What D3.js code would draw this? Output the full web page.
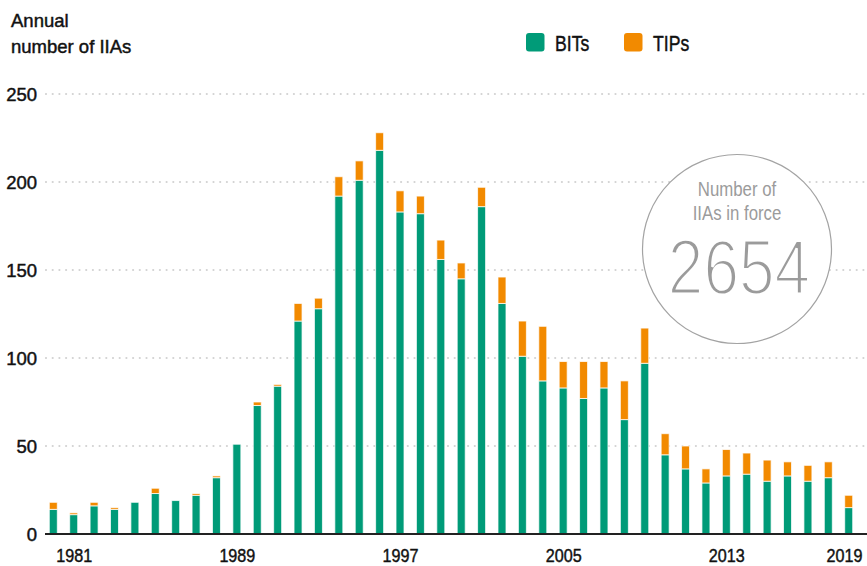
<!DOCTYPE html>
<html>
<head>
<meta charset="utf-8">
<script src="https://cdn.jsdelivr.net/npm/d3@7"></script>
<style>
  html, body { margin: 0; padding: 0; background: #fff; }
  svg { display: block; }
</style>
</head>
<body>
<svg id="chart" width="867" height="566"></svg>
<script>
const years = d3.range(1980, 2020);
const bits = [14,11,16,14,18,23,19,22,32,51,73,84,121,128,192,201,218,183,182,156,145,186,131,101,87,83,77,83,65,97,45,37,29,33,34,30,33,30,32,15];
const tips = [4,1,2,1,0,3,0,1,1,0,2,1,10,6,11,11,10,12,10,11,9,11,15,20,31,15,21,15,22,20,12,13,8,15,12,12,8,9,9,7];
const yTicks = [0, 50, 100, 150, 200, 250];
const xTickYears = [1981, 1989, 1997, 2005, 2013, 2019];
const seriesNames = ["BITs", "TIPs"];
const titleLines = ["Annual", "number of IIAs"];
const inForceLines = ["Number of", "IIAs in force"];
const inForceTotal = "2654";

const colors = { BITs: "#009b78", TIPs: "#f28a00" };
const svg = d3.select("#chart");
const sans = "'Liberation Sans', Arial, sans-serif";
const ink = "#111";

const x = d3.scaleLinear().domain([1980, 2019]).range([53.3, 848.7]);
const y = d3.scaleLinear().domain([0, 250]).range([534, 94]);
const barW = 8;

// grid lines
svg.append("g").selectAll("line").data(yTicks.filter(d => d > 0)).join("line")
  .attr("x1", 46).attr("x2", 867)
  .attr("y1", d => y(d)).attr("y2", d => y(d))
  .attr("stroke", "#d2d2d2").attr("stroke-width", 2.2)
  .attr("stroke-linecap", "round").attr("stroke-dasharray", "0,6.7");

// y labels
svg.append("g").selectAll("text").data(yTicks).join("text")
  .attr("x", 37).attr("y", d => y(d) + 6.5)
  .attr("text-anchor", "end")
  .attr("font-family", sans).attr("font-size", 18.5).attr("fill", ink)
  .attr("stroke", ink).attr("stroke-width", 0.45)
  .text(d => d);

// stacked bars
const data = years.map((yr, i) => ({ year: yr, BITs: bits[i], TIPs: tips[i] }));
const stack = d3.stack().keys(seriesNames)(data);
svg.append("g").selectAll("g").data(stack).join("g")
  .attr("fill", s => colors[s.key])
  .selectAll("rect").data(s => s.filter(d => d[1] - d[0] > 0)).join("rect")
  .attr("x", d => x(d.data.year) - barW / 2)
  .attr("width", barW)
  .attr("y", d => y(d[1]))
  .attr("height", d => y(d[0]) - y(d[1]))
  .attr("stroke", "#fff").attr("stroke-opacity", 0.75).attr("stroke-width", 1);

// baseline
svg.append("line").attr("x1", 45).attr("x2", 867).attr("y1", y(0)).attr("y2", y(0))
  .attr("stroke", "#222").attr("stroke-width", 1.8);

// x axis
const xAxis = svg.append("g").attr("transform", `translate(0,${y(0)})`)
  .call(d3.axisBottom(x).tickValues(xTickYears).tickFormat(d3.format("d")).tickSize(0).tickPadding(0));
xAxis.select(".domain").remove();
xAxis.selectAll("text")
  .attr("font-family", sans).attr("font-size", 19).attr("fill", ink)
  .attr("stroke", ink).attr("stroke-width", 0.45)
  .attr("dy", null).attr("y", 28.5)
  .attr("x", d => d === 2019 ? -5.5 : 0)
  .attr("transform", "scale(0.85,1)");

// title
svg.append("g").selectAll("text").data(titleLines).join("text")
  .attr("x", 11).attr("y", (d, i) => 27 + i * 26)
  .attr("font-family", sans).attr("font-size", 18.5).attr("fill", ink)
  .attr("stroke", ink).attr("stroke-width", 0.45)
  .text(d => d);

// legend
const legend = svg.append("g");
const legendX = [526, 624];
seriesNames.forEach((name, i) => {
  legend.append("rect").attr("x", legendX[i]).attr("y", 33).attr("width", 18.5).attr("height", 18.5)
    .attr("rx", 3).attr("fill", colors[name]);
  legend.append("text").attr("transform", `translate(${legendX[i] + 29},51) scale(0.82,1)`)
    .attr("font-family", sans).attr("font-size", 21.5).attr("fill", ink)
    .attr("stroke", ink).attr("stroke-width", 0.45).text(name);
});

// in-force circle
const cx = 737, cy = 249;
svg.append("circle").attr("cx", cx).attr("cy", cy).attr("r", 94.5)
  .attr("fill", "#fff").attr("stroke", "#a3a3a3").attr("stroke-width", 1.2);
svg.append("g").selectAll("text").data(inForceLines).join("text")
  .attr("text-anchor", "middle")
  .attr("transform", (d, i) => `translate(${cx},${i === 0 ? 196 : 219.5}) scale(0.82,1)`)
  .attr("font-family", sans).attr("font-size", 20.5).attr("fill", "#9b9b9b")
  .text(d => d);
svg.append("text").attr("text-anchor", "middle")
  .attr("transform", `translate(${cx + 2},293.5) scale(0.82,1)`)
  .attr("font-family", sans).attr("font-size", 78).attr("fill", "#9b9b9b")
  .attr("stroke", "#fff").attr("stroke-width", 2.8).attr("paint-order", "fill")
  .text(inForceTotal);
</script>
</body>
</html>
